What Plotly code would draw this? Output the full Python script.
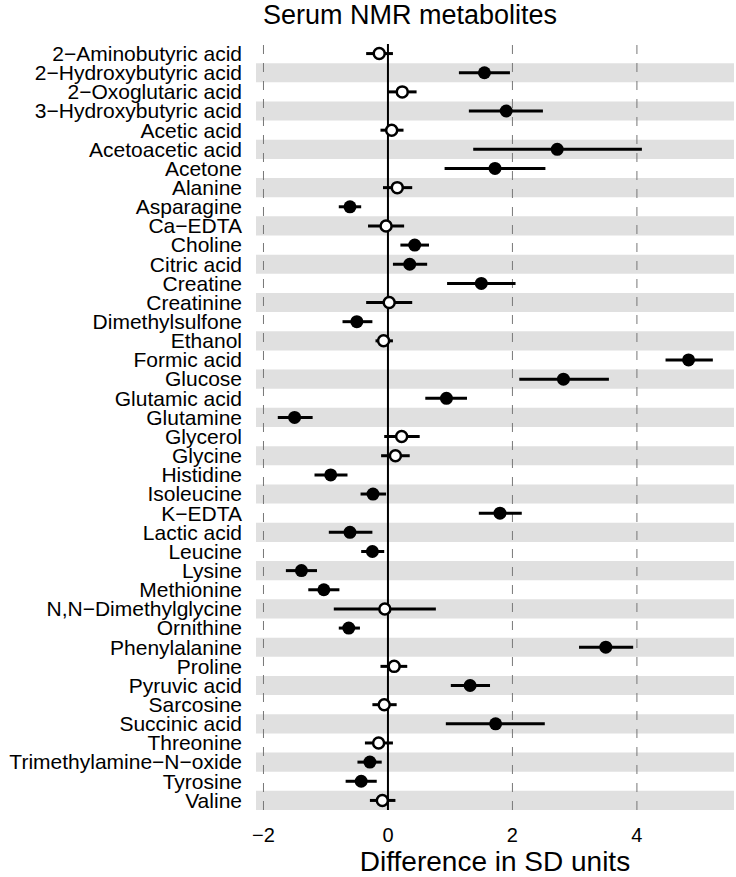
import plotly.graph_objects as go

metabolites = [
    "2−Aminobutyric acid", "2−Hydroxybutyric acid", "2−Oxoglutaric acid", "3−Hydroxybutyric acid",
    "Acetic acid", "Acetoacetic acid", "Acetone", "Alanine", "Asparagine", "Ca−EDTA",
    "Choline", "Citric acid", "Creatine", "Creatinine", "Dimethylsulfone", "Ethanol",
    "Formic acid", "Glucose", "Glutamic acid", "Glutamine", "Glycerol", "Glycine",
    "Histidine", "Isoleucine", "K−EDTA", "Lactic acid", "Leucine", "Lysine", "Methionine",
    "N,N−Dimethylglycine", "Ornithine", "Phenylalanine", "Proline", "Pyruvic acid",
    "Sarcosine", "Succinic acid", "Threonine", "Trimethylamine−N−oxide", "Tyrosine", "Valine",
]
estimate = [
    -0.14, 1.55, 0.23, 1.90, 0.06, 2.72, 1.72, 0.15, -0.61, -0.03,
    0.43, 0.35, 1.50, 0.02, -0.50, -0.07, 4.83, 2.82, 0.94, -1.50,
    0.22, 0.12, -0.92, -0.24, 1.80, -0.61, -0.25, -1.39, -1.03, -0.05,
    -0.63, 3.50, 0.10, 1.32, -0.06, 1.73, -0.15, -0.29, -0.43, -0.09,
]
ci_low = [
    -0.35, 1.14, 0.00, 1.30, -0.12, 1.37, 0.91, -0.08, -0.79, -0.32,
    0.20, 0.08, 0.95, -0.35, -0.73, -0.20, 4.46, 2.11, 0.60, -1.77,
    -0.06, -0.11, -1.18, -0.44, 1.46, -0.95, -0.43, -1.64, -1.28, -0.87,
    -0.79, 3.07, -0.12, 1.01, -0.25, 0.93, -0.37, -0.49, -0.68, -0.29,
]
ci_high = [
    0.08, 1.96, 0.46, 2.49, 0.25, 4.08, 2.53, 0.39, -0.43, 0.26,
    0.66, 0.63, 2.05, 0.39, -0.25, 0.08, 5.22, 3.55, 1.27, -1.21,
    0.51, 0.35, -0.65, -0.03, 2.15, -0.25, -0.06, -1.14, -0.78, 0.77,
    -0.45, 3.94, 0.31, 1.64, 0.14, 2.52, 0.08, -0.10, -0.18, 0.12,
]
significant = [
    False, True, False, True, False, True, True, False, True, False,
    True, True, True, False, True, False, True, True, True, True,
    False, False, True, True, True, True, True, True, True, False,
    True, True, False, True, False, True, False, True, True, False,
]
x_ticks = [-2, 0, 2, 4]
ref_lines = [-2, 2, 4]

rows = list(range(1, len(metabolites) + 1))
FONT = "Liberation Sans, Arial, sans-serif"

fig = go.Figure()

# CI segments
seg_x, seg_y = [], []
for r, lo, hi in zip(rows, ci_low, ci_high):
    seg_x += [lo, hi, None]
    seg_y += [r, r, None]
fig.add_trace(go.Scatter(x=seg_x, y=seg_y, mode="lines",
                         line=dict(color="black", width=3), hoverinfo="skip", showlegend=False))

# filled markers
fig.add_trace(go.Scatter(
    x=[e for e, s in zip(estimate, significant) if s],
    y=[r for r, s in zip(rows, significant) if s],
    mode="markers", marker=dict(color="black", size=13, line=dict(width=0)),
    showlegend=False))
# open markers
fig.add_trace(go.Scatter(
    x=[e for e, s in zip(estimate, significant) if not s],
    y=[r for r, s in zip(rows, significant) if not s],
    mode="markers", marker=dict(color="white", size=11, line=dict(color="black", width=2.5)),
    showlegend=False))

shapes = []
for r in rows:
    if r % 2 == 0:
        shapes.append(dict(type="rect", xref="paper", yref="y", x0=0, x1=1,
                           y0=r - 0.5, y1=r + 0.5, fillcolor="#e0e0e0",
                           line=dict(width=0), layer="below"))
for v in ref_lines:
    shapes.append(dict(type="line", xref="x", yref="paper", x0=v, x1=v, y0=0, y1=1,
                       line=dict(color="#777777", width=1, dash="dash"), layer="below"))
shapes.append(dict(type="line", xref="x", yref="paper", x0=0, x1=0, y0=0, y1=1,
                   line=dict(color="black", width=2), layer="below"))

fig.update_layout(
    width=736, height=877,
    margin=dict(l=256, r=2, t=44, b=67),
    paper_bgcolor="white", plot_bgcolor="white",
    shapes=shapes,
    title=dict(text="Serum NMR metabolites", x=410 / 736, xref="container", xanchor="center",
               y=1 - 15 / 877, yref="container", yanchor="middle",
               font=dict(family=FONT, size=27, color="black")),
    xaxis=dict(range=[-2.12, 5.56], tickvals=x_ticks, showgrid=False, zeroline=False,
               showline=False, ticks="", ticklabelstandoff=11,
               tickfont=dict(family=FONT, size=20, color="black"),
               title=dict(text="Difference in SD units", standoff=8,
                          font=dict(family=FONT, size=28, color="black"))),
    yaxis=dict(range=[40.5, 0.5], tickvals=rows, ticktext=metabolites, showgrid=False,
               zeroline=False, showline=False, ticks="", ticklabelstandoff=13,
               tickfont=dict(family=FONT, size=21, color="black")),
)

fig.write_html("out.html", config={"displayModeBar": False},
               post_script="document.body.style.margin='0';document.body.style.overflow='hidden';")
